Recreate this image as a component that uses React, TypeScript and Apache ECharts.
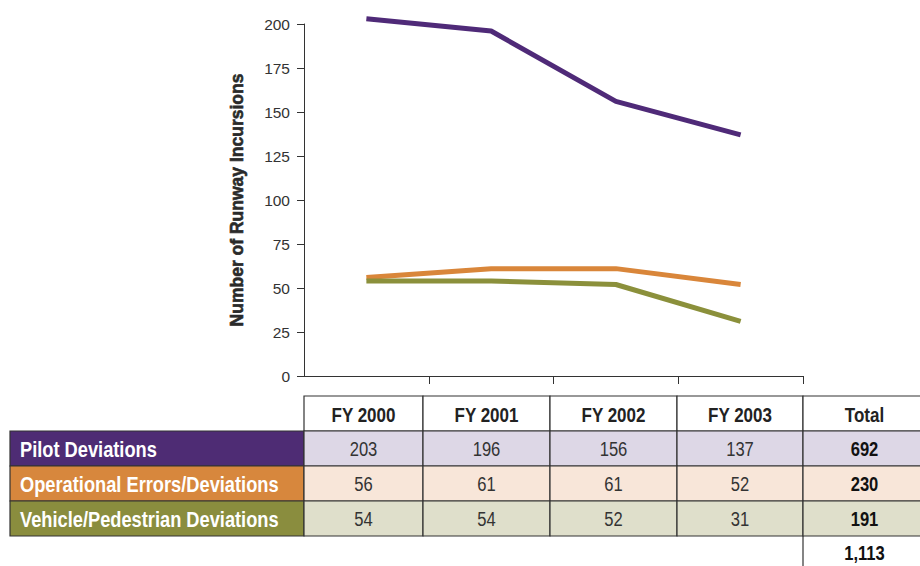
import React, { useEffect, useRef } from "react";
import * as echarts from "echarts";

const categories = ["FY 2000", "FY 2001", "FY 2002", "FY 2003"];
const seriesNames = ["Pilot Deviations", "Operational Errors/Deviations", "Vehicle/Pedestrian Deviations"];
const pilotDeviations = [203, 196, 156, 137];
const operationalErrors = [56, 61, 61, 52];
const vehiclePedestrian = [54, 54, 52, 31];
const rowTotals = ["692", "230", "191"];
const grandTotal = "1,113";
const totalHeader = "Total";
const yAxisName = "Number of Runway Incursions";
const yMin = 0;
const yMax = 200;
const yStep = 25;

const darkColors = ["#4e2c74", "#d7873d", "#8a8d3e"];
const lineColors = ["#4f2a78", "#d9863a", "#8b903b"];
const lightColors = ["#ddd7e6", "#f8e6d9", "#dfdfcb"];
const FONT = '"Liberation Sans", Arial, Helvetica, sans-serif';
const SQUEEZE = 0.85;

export default function App() {
  const ref = useRef<HTMLDivElement>(null);
  useEffect(() => {
    if (!ref.current) return;
    const chart = echarts.init(ref.current, undefined, { renderer: "svg" });
    const seriesData = [pilotDeviations, operationalErrors, vehiclePedestrian];

    // table layout
    const colX = [304, 423, 550, 677, 803, 930];
    const headerTop = 396;
    const rowH = 35;
    const labelLeft = 10;
    const border = "#333333";
    const graphics: any[] = [];
    const colCenter = (c: number) => (colX[c] + Math.min(colX[c + 1], 926)) / 2;

    // header cells
    for (let c = 0; c < 5; c++) {
      graphics.push({
        type: "rect",
        shape: { x: colX[c], y: headerTop, width: colX[c + 1] - colX[c], height: rowH },
        style: { fill: "#ffffff", stroke: border, lineWidth: 1.2 },
      });
      graphics.push({
        type: "text",
        x: colCenter(c),
        y: headerTop + rowH / 2 + 1,
        scaleX: SQUEEZE,
        style: {
          text: c < 4 ? categories[c] : totalHeader,
          fill: "#222222",
          fontFamily: FONT,
          fontWeight: "bold",
          fontSize: 20,
          align: "center",
          verticalAlign: "middle",
        },
      });
    }
    // data rows
    for (let r = 0; r < 3; r++) {
      const y = headerTop + rowH * (r + 1);
      graphics.push({
        type: "rect",
        shape: { x: labelLeft, y, width: colX[0] - labelLeft, height: rowH },
        style: { fill: darkColors[r], stroke: border, lineWidth: 1.2 },
      });
      graphics.push({
        type: "text",
        x: labelLeft + 10,
        y: y + rowH / 2 + 1,
        scaleX: 0.83,
        style: {
          text: seriesNames[r],
          fill: "#ffffff",
          fontFamily: FONT,
          fontWeight: "bold",
          fontSize: 22,
          align: "left",
          verticalAlign: "middle",
        },
      });
      for (let c = 0; c < 5; c++) {
        graphics.push({
          type: "rect",
          shape: { x: colX[c], y, width: colX[c + 1] - colX[c], height: rowH },
          style: { fill: lightColors[r], stroke: border, lineWidth: 1.2 },
        });
        graphics.push({
          type: "text",
          x: colCenter(c),
          y: y + rowH / 2 + 1,
          scaleX: SQUEEZE,
          style: {
            text: c < 4 ? String(seriesData[r][c]) : rowTotals[r],
            fill: c < 4 ? "#333333" : "#111111",
            fontFamily: FONT,
            fontWeight: c < 4 ? "normal" : "bold",
            fontSize: 19.5,
            align: "center",
            verticalAlign: "middle",
          },
        });
      }
    }
    const totalTop = headerTop + rowH * 4;
    graphics.push({
      type: "line",
      shape: { x1: colX[4], y1: totalTop, x2: colX[4], y2: 566 },
      style: { stroke: border, lineWidth: 1.2 },
    });
    graphics.push({
      type: "text",
      x: colCenter(4),
      y: totalTop + 18,
      scaleX: SQUEEZE,
      style: {
        text: grandTotal,
        fill: "#111111",
        fontFamily: FONT,
        fontWeight: "bold",
        fontSize: 19.5,
        align: "center",
        verticalAlign: "middle",
      },
    });

    chart.setOption({
      animation: false,
      backgroundColor: "#ffffff",
      grid: { left: 304, right: 117, top: 24, bottom: 190, containLabel: false },
      xAxis: {
        type: "category",
        data: categories,
        boundaryGap: true,
        axisLine: { show: true, lineStyle: { color: "#333333", width: 1 } },
        axisTick: {
          show: true,
          length: 8,
          interval: (index: number) => index !== 0,
          lineStyle: { color: "#333333", width: 1 },
        },
        axisLabel: { show: false },
        splitLine: { show: false },
      },
      yAxis: {
        type: "value",
        min: yMin,
        max: yMax,
        interval: yStep,
        name: yAxisName,
        nameLocation: "middle",
        nameRotate: 90,
        nameGap: 58,
        nameTextStyle: {
          fontFamily: FONT,
          fontWeight: "bold",
          fontSize: 17.5,
          color: "#2a2a2a",
          textBorderColor: "#2a2a2a",
          textBorderWidth: 0.6,
        },
        axisLine: { show: true, lineStyle: { color: "#333333", width: 1 } },
        axisTick: { show: true, length: 7, lineStyle: { color: "#333333", width: 1 } },
        axisLabel: { fontFamily: FONT, fontSize: 15.5, color: "#333333", margin: 14 },
        splitLine: { show: false },
      },
      series: seriesNames.map((name, i) => ({
        name,
        type: "line",
        data: seriesData[i],
        clip: false,
        symbol: "none",
        lineStyle: { color: lineColors[i], width: 5 },
        itemStyle: { color: lineColors[i] },
        z: 2 + i,
      })),
      graphic: graphics,
    });
    return () => chart.dispose();
  }, []);
  return (
    <div
      ref={ref}
      style={{ position: "absolute", left: 0, top: 0, width: 920, height: 566, background: "#fff" }}
    />
  );
}
